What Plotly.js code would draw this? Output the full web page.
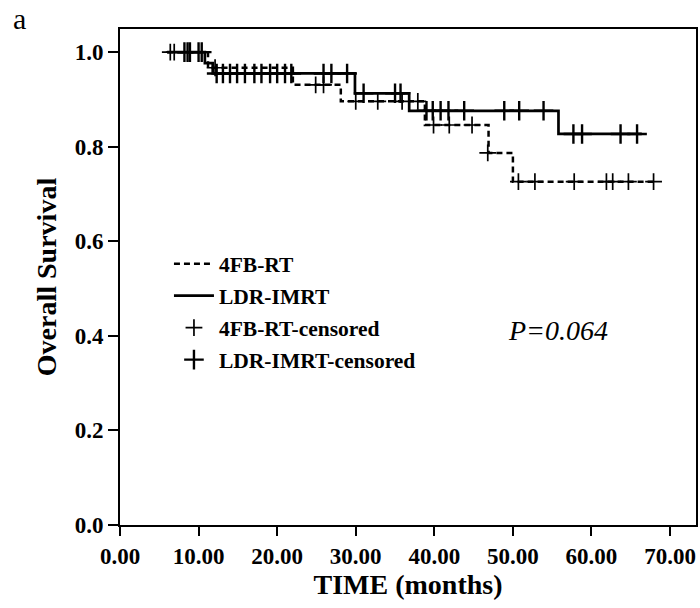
<!DOCTYPE html>
<html>
<head>
<meta charset="utf-8">
<script src="https://cdn.plot.ly/plotly-3.0.1.min.js"></script>
<style>
  html, body { margin: 0; padding: 0; background: #fff; }
  #chart { width: 700px; height: 608px; }
</style>
</head>
<body>
<div id="chart"></div>
<script>
// Kaplan-Meier step points (time in months, survival proportion)
const fbTime   = [6.0, 11.2, 22.0, 28.1, 38.8, 46.9, 50.0, 68.3];
const fbSurv   = [1.0, 0.967, 0.931, 0.896, 0.846, 0.787, 0.726, 0.726];
const ldrTime  = [6.0, 10.8, 11.8, 29.9, 36.8, 55.8, 66.4];
const ldrSurv  = [1.0, 0.977, 0.955, 0.913, 0.876, 0.827, 0.827];

// Censored observations
const fbCensTime = [6.4, 6.9, 12.1, 24.9, 25.9, 30.0, 32.8, 35.9, 37.9, 39.9, 41.9, 44.8, 46.8,
                    50.7, 52.8, 57.8, 61.9, 62.7, 64.7, 67.9];
const fbCensSurv = [1.0, 1.0, 0.967, 0.931, 0.931, 0.896, 0.896, 0.896, 0.896, 0.846, 0.846, 0.846, 0.787,
                    0.726, 0.726, 0.726, 0.726, 0.726, 0.726, 0.726];
const ldrCensTime = [8.2, 8.6, 8.9, 10.0, 10.4,
                     12.3, 13.1, 14.0, 14.9, 15.9, 17.1, 18.0, 19.1, 20.0, 21.0, 21.8, 25.9, 26.9, 28.9,
                     31.0, 35.0, 35.7,
                     39.0, 39.8, 40.8, 41.8, 43.8, 48.9, 50.8, 53.9,
                     57.7, 58.8, 63.7, 65.8];
const ldrCensSurv = [1.0, 1.0, 1.0, 1.0, 1.0,
                     0.955, 0.955, 0.955, 0.955, 0.955, 0.955, 0.955, 0.955, 0.955, 0.955, 0.955, 0.955, 0.955, 0.955,
                     0.913, 0.913, 0.913,
                     0.876, 0.876, 0.876, 0.876, 0.876, 0.876, 0.876, 0.876,
                     0.827, 0.827, 0.827, 0.827];

const groupNames = ['4FB-RT', 'LDR-IMRT', '4FB-RT-censored', 'LDR-IMRT-censored'];
const xTicks = [0, 10, 20, 30, 40, 50, 60, 70];
const yTicks = [0.0, 0.2, 0.4, 0.6, 0.8, 1.0];

const serif = 'Liberation Serif, Times New Roman, serif';

const traces = [
  {
    x: fbTime, y: fbSurv, name: groupNames[0], legendgroup: 'g1',
    mode: 'lines', line: {shape: 'hv', color: '#000', width: 2.5, dash: '6px,4px'}
  },
  {
    x: ldrTime, y: ldrSurv, name: groupNames[1], legendgroup: 'g2',
    mode: 'lines', line: {shape: 'hv', color: '#000', width: 2.7}
  },
  {
    x: fbCensTime, y: fbCensSurv, name: groupNames[2], legendgroup: 'g3',
    mode: 'markers',
    marker: {symbol: 'cross-thin', size: 12, color: '#000', line: {color: '#000', width: 1.7}}
  },
  {
    x: ldrCensTime, y: ldrCensSurv, name: groupNames[3], legendgroup: 'g4',
    mode: 'markers',
    marker: {symbol: 'cross-thin', size: 14, color: '#000', line: {color: '#000', width: 2.4}}
  }
];

const layout = {
  width: 700, height: 608,
  margin: {l: 120, r: 4, t: 29, b: 83},
  paper_bgcolor: '#fff', plot_bgcolor: '#fff',
  showlegend: true,
  legend: {
    x: 0.085, y: 0.568, xanchor: 'left', yanchor: 'top',
    bgcolor: 'rgba(0,0,0,0)', borderwidth: 0,
    traceorder: 'grouped', tracegroupgap: 1, itemwidth: 40,
    font: {family: serif, size: 21.5, color: '#000', weight: 'bold'}
  },
  xaxis: {
    range: [0, 73.3], tickvals: xTicks, tickformat: '.2f',
    ticks: 'outside', ticklen: 9, tickwidth: 2, tickcolor: '#000',
    showline: true, linewidth: 2, linecolor: '#000', mirror: true,
    showgrid: false, zeroline: false,
    tickfont: {family: serif, size: 23, color: '#000', weight: 'bold'},
    title: {text: 'TIME (months)', standoff: 6,
            font: {family: serif, size: 28, color: '#000', weight: 'bold'}}
  },
  yaxis: {
    range: [0, 1.049], tickvals: yTicks, tickformat: '.1f',
    ticks: 'outside', ticklen: 10, tickwidth: 2, tickcolor: '#000',
    showline: true, linewidth: 2, linecolor: '#000', mirror: true,
    showgrid: false, zeroline: false,
    tickfont: {family: serif, size: 23, color: '#000', weight: 'bold'},
    title: {text: 'Overall Survival', standoff: 10,
            font: {family: serif, size: 28, color: '#000', weight: 'bold'}}
  },
  annotations: [
    {
      text: 'a', xref: 'paper', yref: 'paper', x: -0.175, y: 1.021,
      xanchor: 'center', yanchor: 'middle', showarrow: false,
      font: {family: serif, size: 30, color: '#000'}
    },
    {
      text: '<i>P=0.064</i>', xref: 'paper', yref: 'paper', x: 0.76, y: 0.393,
      xanchor: 'center', yanchor: 'middle', showarrow: false,
      font: {family: serif, size: 28, color: '#000'}
    }
  ]
};

Plotly.newPlot('chart', traces, layout, {displayModeBar: false, staticPlot: true});
</script>
</body>
</html>
